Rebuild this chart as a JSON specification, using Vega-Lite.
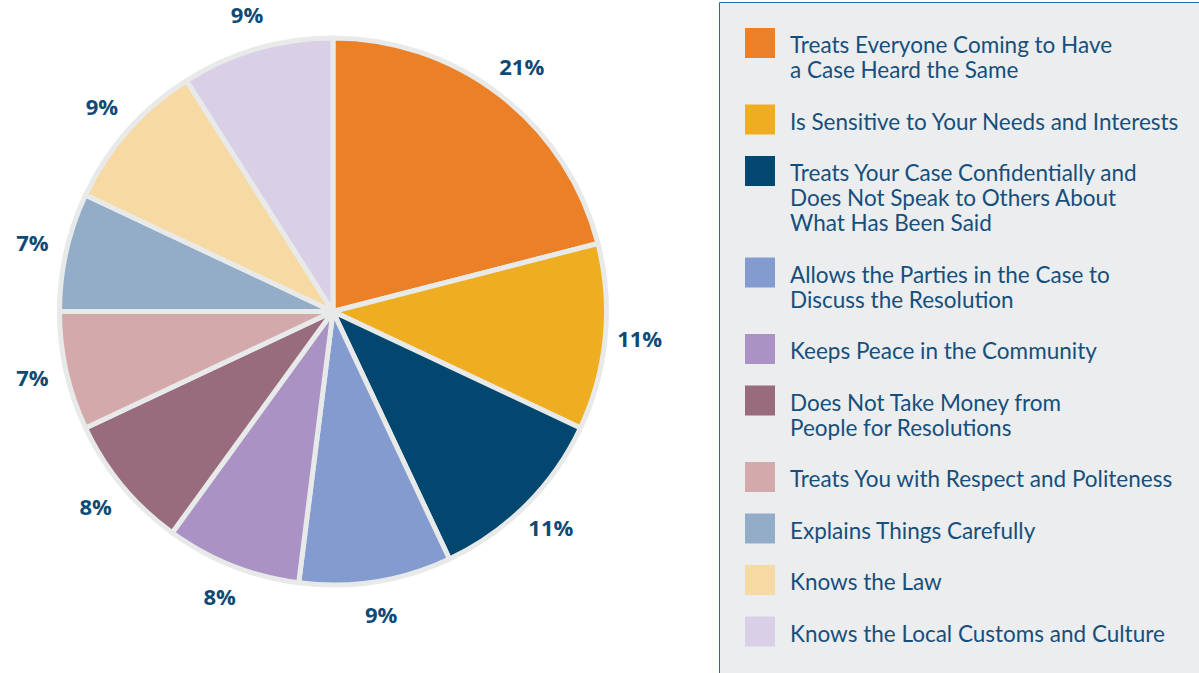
{
  "$schema": "https://vega.github.io/schema/vega-lite/v6.json",
  "width": 666,
  "height": 623,
  "autosize": {"type": "none"},
  "padding": {"left": 0, "top": 0, "right": 533, "bottom": 50},
  "background": "white",
  "config": {
    "view": {"stroke": null},
    "style": {"guide-label": {"dy": 10, "lineHeight": 25}}
  },
  "data": {
    "values": [
      {"idx": 1, "name": "Treats Everyone Coming to Have a Case Heard the Same", "pct": 0.21},
      {"idx": 2, "name": "Is Sensitive to Your Needs and Interests", "pct": 0.11},
      {"idx": 3, "name": "Treats Your Case Confidentially and Does Not Speak to Others About What Has Been Said", "pct": 0.11},
      {"idx": 4, "name": "Allows the Parties in the Case to Discuss the Resolution", "pct": 0.09},
      {"idx": 5, "name": "Keeps Peace in the Community", "pct": 0.08},
      {"idx": 6, "name": "Does Not Take Money from People for Resolutions", "pct": 0.08},
      {"idx": 7, "name": "Treats You with Respect and Politeness", "pct": 0.07},
      {"idx": 8, "name": "Explains Things Carefully", "pct": 0.07},
      {"idx": 9, "name": "Knows the Law", "pct": 0.09},
      {"idx": 10, "name": "Knows the Local Customs and Culture", "pct": 0.09}
    ]
  },
  "encoding": {
    "theta": {"field": "pct", "type": "quantitative", "stack": true},
    "order": {"field": "idx", "type": "quantitative"}
  },
  "layer": [
    {
      "mark": {"type": "arc", "outerRadius": 273.5, "stroke": "#e8eaea", "strokeWidth": 5},
      "encoding": {
        "color": {
          "field": "name",
          "type": "nominal",
          "sort": null,
          "scale": {
            "domain": [
              "Treats Everyone Coming to Have a Case Heard the Same",
              "Is Sensitive to Your Needs and Interests",
              "Treats Your Case Confidentially and Does Not Speak to Others About What Has Been Said",
              "Allows the Parties in the Case to Discuss the Resolution",
              "Keeps Peace in the Community",
              "Does Not Take Money from People for Resolutions",
              "Treats You with Respect and Politeness",
              "Explains Things Carefully",
              "Knows the Law",
              "Knows the Local Customs and Culture"
            ],
            "range": ["#eb8026", "#efad22", "#02476f", "#849bd0", "#aa93c4", "#986c7c", "#d4a9ac", "#93adc8", "#f7d9a3", "#d9cfe6"]
          },
          "legend": {
            "orient": "none",
            "legendX": 719,
            "legendY": 2,
            "title": null,
            "padding": 26,
            "fillColor": "#ecedef",
            "strokeColor": "#2a6a96",
            "symbolType": "square",
            "symbolSize": 900,
            "symbolStrokeWidth": 0,
            "symbolOpacity": 1,
            "labelFont": "Lato",
            "labelFontSize": 22.5,
            "labelColor": "#154f7c",
            "labelOffset": 15,
            "labelLimit": 0,
            "rowPadding": 21.5,
            "labelBaseline": "alphabetic",
            "labelExpr": "datum.label == 'Treats Everyone Coming to Have a Case Heard the Same' ? ['Treats Everyone Coming to Have', 'a Case Heard the Same'] : datum.label == 'Treats Your Case Confidentially and Does Not Speak to Others About What Has Been Said' ? ['Treats Your Case Confidentially and', 'Does Not Speak to Others About', 'What Has Been Said'] : datum.label == 'Allows the Parties in the Case to Discuss the Resolution' ? ['Allows the Parties in the Case to', 'Discuss the Resolution'] : datum.label == 'Does Not Take Money from People for Resolutions' ? ['Does Not Take Money from', 'People for Resolutions'] : datum.label",
            "encode": {
              "legend": {"strokeWidth": {"value": 2}}
            }
          }
        }
      }
    },
    {
      "mark": {"type": "text", "radius": 308, "fontSize": 22, "fontWeight": "bold", "font": "Open Sans", "color": "#0d4a75"},
      "encoding": {
        "text": {"field": "pct", "type": "quantitative", "format": ".0%"}
      }
    }
  ]
}
